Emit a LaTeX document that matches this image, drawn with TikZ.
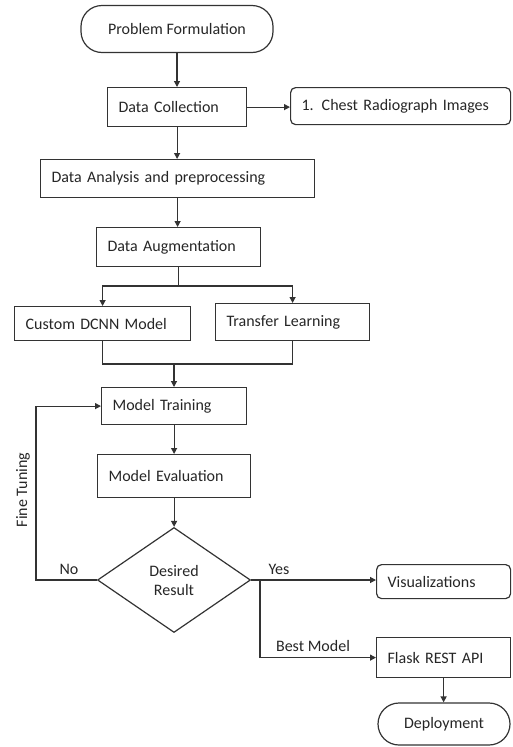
\documentclass[tikz,border=0pt]{standalone}
\usepackage{fontspec}
\setmainfont{Carlito}
\usetikzlibrary{shapes.geometric,arrows.meta}
\begin{document}
\begin{tikzpicture}[x=1pt,y=-1pt,
  every node/.style={font=\fontsize{16}{19}\selectfont, text=black!85},
  line/.style={draw=black!80, line width=1.2pt},
  arr/.style={line, -{Triangle[length=6pt,width=6pt]}},
  box/.style={line, rectangle, anchor=north west, align=left, inner xsep=11pt, inner ysep=0pt},
  rbox/.style={box, rounded corners=5pt},
  stad/.style={line, rectangle, rounded corners=21pt, inner sep=0pt, align=center},
  lab/.style={inner sep=1pt}
]
\useasboundingbox (0,0) rectangle (512,747);
\node[stad, minimum width=192pt, minimum height=47pt] (pf) at (177,29) {Problem Formulation};
\node[box, text width=117pt, minimum height=39pt] (dc) at (107,87) {Data Collection};
\node[rbox, text width=198pt, minimum height=37pt] (chest) at (290,87) {1. Chest Radiograph Images};
\node[box, text width=252pt, minimum height=38pt] (da) at (40,159) {Data Analysis and preprocessing};
\node[box, text width=142pt, minimum height=39pt] (aug) at (96,227) {Data Augmentation};
\node[box, text width=154pt, minimum height=34pt] (cust) at (14,306) {Custom DCNN Model};
\node[box, text width=132pt, minimum height=37pt] (tl) at (215,303) {Transfer Learning};
\node[box, text width=123pt, minimum height=37pt] (mt) at (101,387) {Model Training};
\node[box, text width=131pt, minimum height=43pt] (me) at (97,454) {Model Evaluation};
\node[line, diamond, inner sep=0pt, minimum width=153pt, minimum height=105pt, align=center, font=\fontsize{16}{19}\selectfont] (dr) at (174,580) {Desired\\Result};
\node[rbox, text width=112pt, minimum height=34pt] (vis) at (376,564) {Visualizations};
\node[box, text width=112pt, minimum height=40pt] (flask) at (376,637) {Flask REST API};
\node[stad, minimum width=132pt, minimum height=42pt] (dep) at (444,724) {Deployment};

\coordinate (b) at (177,286);
\coordinate (m) at (174,364);
\coordinate (fl) at (36,580);
\coordinate (bm) at (260,580);

\draw[arr] (pf.south) -- (pf.south |- dc.north);
\draw[arr] (dc.east) -- (dc.east -| chest.west);
\draw[arr] (dc.south) -- (dc.south |- da.north);
\draw[arr] (da.south) -- (da.south |- aug.north);
\draw[line] (aug.south) -- (aug.south |- b);
\draw[arr] (b) -| (cust.north);
\draw[arr] (b) -| (tl.north);
\draw[line] (cust.south) |- (tl.south |- m) -- (tl.south);
\draw[arr] (m) -- (m |- mt.north);
\draw[arr] (mt.south) -- (mt.south |- me.north);
\draw[arr] (me.south) -- (me.south |- dr.north);
\draw[arr] (dr.west) -- (fl) |- (mt.west);
\draw[arr] (dr.east) -- (dr.east -| vis.west);
\draw[arr] (bm) |- (flask.west);
\draw[arr] (flask.south) -- (flask.south |- dep.north);

\node[lab] (no) at (69,569) {No};
\node[lab] (yes) at (279,569) {Yes};
\node[lab] (best) at (313,646) {Best Model};
\node[lab, rotate=90] (ft) at (23,490) {Fine Tuning};
\end{tikzpicture}
\end{document}
